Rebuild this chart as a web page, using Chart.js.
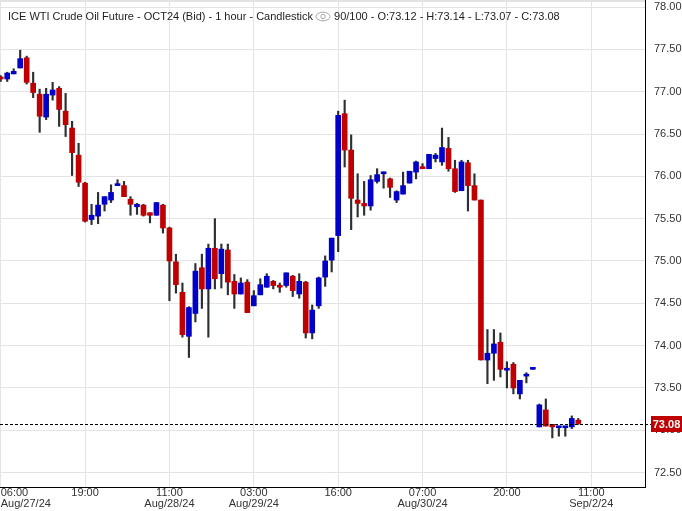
<!DOCTYPE html>
<html>
<head>
<meta charset="utf-8">
<title>ICE WTI Crude Oil Future - OCT24 (Bid) - 1 hour</title>
<script src="https://cdn.jsdelivr.net/npm/chart.js@4.4.1/dist/chart.umd.min.js"></script>
<style>
  html, body { margin: 0; padding: 0; background: #fff; }
  #wrap { position: relative; width: 682px; height: 511px; overflow: hidden; }
  #chart { display: block; }
  .top-rule { position: absolute; left: 0; top: 0; width: 645px; height: 2px; background: #e2e2e2; }
  .header {
    position: absolute; left: 8px; top: 10px;
    font: 11px 'Liberation Sans', Arial, sans-serif; line-height: 13px;
    color: #1e1e1e; white-space: nowrap;
  }
  .header svg { vertical-align: -2px; margin: 0 3px 0 2px; }
</style>
</head>
<body>
<div id="wrap">
  <canvas id="chart" width="682" height="511"></canvas>
  <div class="top-rule"></div>
  <div class="header" id="header"></div>
</div>
<script>
// hourly OHLC, bar 0 = Aug/27/24 06:00
const opens = [
  77.16, 77.15, 77.21, 77.28, 77.40, 77.10, 76.97, 76.70, 76.96, 77.04,
  76.77, 76.57, 76.25, 75.92, 75.49, 75.53, 75.67, 75.72, 75.89, 75.89,
  75.73, 75.64, 75.66, 75.57, 75.54, 75.66, 75.39, 74.99, 74.63, 74.11,
  74.38, 74.92, 74.67, 75.15, 74.85, 75.13, 74.76, 74.61, 74.75, 74.47,
  74.60, 74.69, 74.76, 74.70, 74.71, 74.82, 74.61, 74.75, 74.15, 74.47,
  74.81, 75.01, 75.30, 76.74, 76.31, 75.72, 75.68, 75.65, 75.94, 76.03,
  75.97, 75.72, 75.79, 75.92, 76.05, 76.10, 76.09, 76.21, 76.17, 76.33,
  76.09, 75.83, 76.16, 75.89, 75.72, 73.83, 73.91, 74.04, 73.71, 73.78,
  73.43, 73.64, 73.72, 73.04, 73.24, 73.07, 73.03, 73.03, 73.04, 73.12,
];
const highs = [
  77.19, 77.23, 77.27, 77.49, 77.42, 77.23, 77.03, 77.04, 77.11, 77.06,
  76.98, 76.65, 76.39, 75.93, 75.67, 75.81, 75.76, 75.90, 75.96, 75.94,
  75.76, 75.68, 75.67, 75.57, 75.69, 75.67, 75.40, 75.08, 74.74, 74.46,
  74.97, 75.08, 75.20, 75.50, 75.20, 75.20, 74.84, 74.80, 74.78, 74.65,
  74.79, 74.85, 74.77, 74.74, 74.86, 74.83, 74.85, 74.76, 74.48, 74.81,
  75.06, 75.27, 76.77, 76.90, 76.49, 76.03, 75.94, 76.01, 76.09, 76.05,
  75.98, 75.83, 76.05, 76.06, 76.18, 76.15, 76.26, 76.27, 76.57, 76.46,
  76.19, 76.19, 76.19, 76.03, 75.72, 74.19, 74.19, 74.15, 73.81, 73.80,
  73.59, 73.68, 73.73, 73.31, 73.37, 73.07, 73.04, 73.04, 73.17, 73.14,
];
const lows = [
  77.12, 77.12, 77.21, 77.28, 77.09, 76.93, 76.52, 76.67, 76.90, 76.59,
  76.47, 76.01, 75.88, 75.46, 75.43, 75.44, 75.59, 75.69, 75.89, 75.76,
  75.54, 75.55, 75.53, 75.45, 75.54, 75.33, 74.53, 74.62, 74.10, 73.86,
  74.28, 74.44, 74.10, 74.67, 74.68, 74.60, 74.44, 74.61, 74.39, 74.47,
  74.60, 74.69, 74.67, 74.63, 74.69, 74.58, 74.56, 74.09, 74.08, 74.44,
  74.70, 74.87, 75.11, 76.11, 75.37, 75.52, 75.54, 75.60, 75.92, 75.86,
  75.75, 75.69, 75.79, 75.92, 75.97, 76.09, 76.09, 76.17, 76.13, 76.06,
  75.81, 75.83, 75.59, 75.72, 73.83, 73.55, 73.59, 73.63, 73.50, 73.43,
  73.37, 73.56, 73.72, 73.04, 73.05, 72.91, 72.93, 72.93, 73.02, 73.07,
];
const closes = [
  77.15, 77.22, 77.24, 77.39, 77.11, 76.99, 76.71, 76.97, 77.02, 76.79,
  76.61, 76.28, 75.93, 75.47, 75.54, 75.66, 75.76, 75.81, 75.91, 75.76,
  75.67, 75.67, 75.54, 75.54, 75.69, 75.39, 75.00, 74.72, 74.13, 74.45,
  74.88, 74.67, 75.15, 74.79, 75.14, 74.75, 74.61, 74.74, 74.39, 74.59,
  74.72, 74.82, 74.71, 74.69, 74.86, 74.65, 74.76, 74.15, 74.42, 74.80,
  75.00, 75.27, 76.72, 76.31, 75.74, 75.68, 75.65, 75.96, 76.02, 76.05,
  75.87, 75.82, 75.89, 76.06, 76.17, 76.09, 76.26, 76.25, 76.34, 76.09,
  75.82, 76.17, 75.89, 75.72, 73.83, 73.91, 74.02, 73.72, 73.73, 73.50,
  73.59, 73.66, 73.73, 73.30, 73.05, 73.04, 73.04, 73.04, 73.14, 73.08,
];

const xTickBars = [0, 13, 26, 39, 52, 65, 78, 91];
const xTickLabels = [
  ['06:00', 'Aug/27/24'], '19:00', ['11:00', 'Aug/28/24'], ['03:00', 'Aug/29/24'],
  '16:00', ['07:00', 'Aug/30/24'], '20:00', ['11:00', 'Sep/2/24'],
];
const yTicks = [72.5, 73, 73.5, 74, 74.5, 75, 75.5, 76, 76.5, 77, 77.5, 78];

const UP = '#0000c8';
const DOWN = '#c00000';
const WICK = '#2d3033';
const GRID = '#e4e4e4';

const last = closes.length - 1;
const f2 = v => v.toFixed(2);

document.getElementById('header').innerHTML =
  'ICE WTI Crude Oil Future - OCT24 (Bid) - 1 hour - Candlestick' +
  '<svg width="16" height="11" viewBox="0 0 16 11"><ellipse cx="8" cy="5.5" rx="7" ry="4.3" fill="none" stroke="#a8a8a8" stroke-width="1"/><circle cx="8" cy="5.5" r="2.2" fill="none" stroke="#a8a8a8" stroke-width="1"/></svg>' +
  `${closes.length}/100 - O:${f2(opens[last])} - H:${f2(highs[last])} - L:${f2(lows[last])} - C:${f2(closes[last])}`;

// dashed last-price line and red price tag on the right axis
const lastPricePlugin = {
  id: 'lastPrice',
  afterDraw(chart) {
    const { ctx, chartArea, scales } = chart;
    const y = Math.round(scales.y.getPixelForValue(closes[last])) + 0.5;
    ctx.save();
    ctx.strokeStyle = '#000';
    ctx.lineWidth = 1;
    ctx.setLineDash([3, 2]);
    ctx.beginPath();
    ctx.moveTo(chartArea.left, y);
    ctx.lineTo(chartArea.right + 6, y);
    ctx.stroke();
    ctx.setLineDash([]);
    ctx.fillStyle = DOWN;
    ctx.fillRect(chartArea.right + 6, y - 8.5, 31, 16);
    ctx.fillStyle = '#fff';
    ctx.font = "bold 11px 'Liberation Sans', Arial, sans-serif";
    ctx.textAlign = 'center';
    ctx.textBaseline = 'middle';
    ctx.fillText(f2(closes[last]), chartArea.right + 21.5, y);
    ctx.restore();
  },
};

Chart.defaults.font.family = "'Liberation Sans', Arial, sans-serif";
Chart.defaults.font.size = 11;
Chart.defaults.color = '#333';

new Chart(document.getElementById('chart'), {
  type: 'bar',
  data: {
    datasets: [
      {
        label: 'Body',
        data: opens.map((o, i) => ({ x: i, y: [o, closes[i]] })),
        backgroundColor: opens.map((o, i) => (closes[i] >= o ? UP : DOWN)),
        barThickness: 5,
        minBarLength: 2,
        grouped: false,
        order: 1,
      },
      {
        label: 'Range',
        data: lows.map((l, i) => ({ x: i, y: [l, highs[i]] })),
        backgroundColor: WICK,
        barThickness: 1.5,
        grouped: false,
        order: 2,
      },
    ],
  },
  options: {
    responsive: false,
    animation: false,
    layout: { padding: 0 },
    plugins: {
      legend: { display: false },
      tooltip: { enabled: false },
    },
    scales: {
      x: {
        type: 'linear',
        min: -0.11,
        max: 99.28,
        offset: false,
        grid: { color: GRID, offset: false, drawTicks: false },
        border: { color: '#000' },
        ticks: {
          align: 'inner',
          padding: 0,
          autoSkip: false,
          maxRotation: 0,
          font: { size: 11, lineHeight: 1.05 },
          callback: (value, index) => xTickLabels[index] ?? '',
        },
        afterBuildTicks: scale => {
          scale.ticks = [...xTickBars, scale.max].map(value => ({ value }));
        },
        afterFit: scale => {
          scale.height = 24;
          scale.paddingLeft = 0;
          scale.paddingRight = 0;
        },
      },
      y: {
        position: 'right',
        min: 72.33,
        max: 78.083,
        beginAtZero: false,
        grid: { color: GRID, drawTicks: false },
        border: { color: '#000' },
        ticks: {
          padding: 9,
          callback: value => value.toFixed(2),
        },
        afterBuildTicks: scale => {
          scale.ticks = yTicks.map(value => ({ value }));
        },
        afterFit: scale => {
          scale.width = 37;
          scale.paddingTop = 0;
          scale.paddingBottom = 0;
        },
      },
    },
  },
  plugins: [lastPricePlugin],
});
</script>
</body>
</html>
